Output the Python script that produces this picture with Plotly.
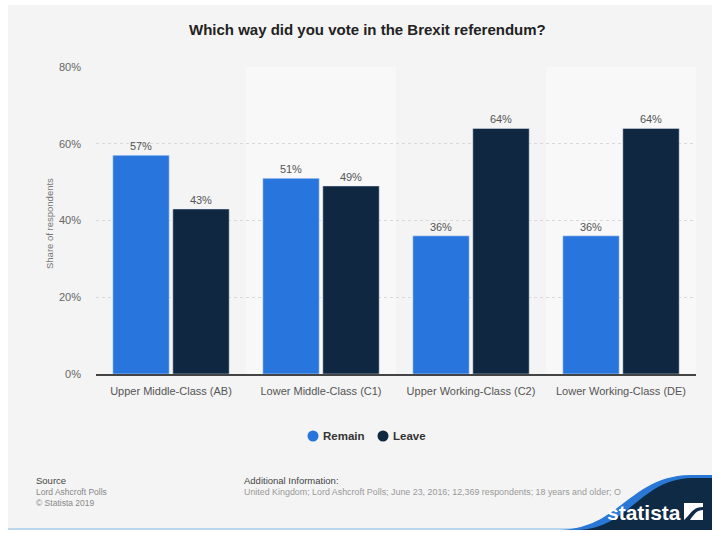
import plotly.graph_objects as go

categories = ["Upper Middle-Class (AB)", "Lower Middle-Class (C1)",
              "Upper Working-Class (C2)", "Lower Working-Class (DE)"]
remain = [57, 51, 36, 36]
leave = [43, 49, 64, 64]
series_names = ["Remain", "Leave"]
y_ticks = [0, 20, 40, 60, 80]
y_tick_labels = ["0%", "20%", "40%", "60%", "80%"]

TITLE = "Which way did you vote in the Brexit referendum?"
Y_TITLE = "Share of respondents"
SOURCE_LINES = ["Lord Ashcroft Polls", "© Statista 2019"]
ADDITIONAL = "United Kingdom; Lord Ashcroft Polls; June 23, 2016; 12,369 respondents; 18 years and older; O"

W_FIG, H_FIG = 712, 533
L, R, T, B = 96, 16, 67, 159
PW = W_FIG - L - R
PH = H_FIG - T - B

def px(x):
    return (x - L) / PW

def py(y):
    return 1 - (y - T) / PH

C_REMAIN = "#2876dd"
C_LEAVE = "#0f2740"
FONT = "Liberation Sans, Arial, Helvetica, sans-serif"

fig = go.Figure()
fig.add_trace(go.Bar(x=categories, y=remain, name=series_names[0], marker_color=C_REMAIN,
                     text=[f"{v}%" for v in remain], textposition="outside",
                     textfont=dict(color="#555555", size=11), cliponaxis=False,
                     showlegend=False))
fig.add_trace(go.Bar(x=categories, y=leave, name=series_names[1], marker_color=C_LEAVE,
                     text=[f"{v}%" for v in leave], textposition="outside",
                     textfont=dict(color="#555555", size=11), cliponaxis=False,
                     showlegend=False))

shapes = []
# grey paper panel
shapes.append(dict(type="rect", xref="paper", yref="paper", x0=px(8), x1=px(712),
                   y0=py(529), y1=py(5), fillcolor="#f4f4f4", line_width=0, layer="below"))
# alternating bands
for i in (1, 3):
    shapes.append(dict(type="rect", xref="x", yref="y", x0=i - 0.5, x1=i + 0.5, y0=0, y1=80,
                       fillcolor="#f8f8f8", line_width=0, layer="below"))
# bottom light-blue line
shapes.append(dict(type="line", xref="paper", yref="paper", x0=px(8), x1=px(712),
                   y0=py(529), y1=py(529), line=dict(color="#bcd5ef", width=2), layer="above"))

# statista logo swoosh
def P(x, y):
    return f"{px(x):.5f},{py(y):.5f}"

blue_path = ("M " + P(560, 530) + " C " + P(620, 528) + " " + P(630, 476) + " " + P(690, 475)
             + " L " + P(712, 475) + " L " + P(712, 530) + " Z")
dark_path = ("M " + P(578, 530) + " C " + P(630, 528) + " " + P(640, 479) + " " + P(692, 478)
             + " L " + P(712, 478) + " L " + P(712, 530) + " Z")
shapes.append(dict(type="path", xref="paper", yref="paper", path=blue_path,
                   fillcolor="#2a78d6", line_width=0, layer="above"))
shapes.append(dict(type="path", xref="paper", yref="paper", path=dark_path,
                   fillcolor="#0e2a44", line_width=0, layer="above"))
# logo icon
icon1 = ("M " + P(684, 503) + " L " + P(703, 503) + " L " + P(703, 507) + " C " + P(695, 507) + " "
         + P(692, 511) + " " + P(688, 516) + " L " + P(684, 520) + " Z")
icon2 = ("M " + P(703, 510) + " L " + P(703, 520) + " L " + P(690, 520) + " C " + P(694, 514) + " "
         + P(697, 510) + " " + P(703, 510) + " Z")
for p_ in (icon1, icon2):
    shapes.append(dict(type="path", xref="paper", yref="paper", path=p_,
                       fillcolor="white", line_width=0, layer="above"))

# legend circles
for cx, col in ((313, C_REMAIN), (383, C_LEAVE)):
    shapes.append(dict(type="circle", xref="paper", yref="paper",
                       x0=px(cx - 5.5), x1=px(cx + 5.5), y0=py(436 + 5.5), y1=py(436 - 5.5),
                       fillcolor=col, line_width=0, layer="above"))

def ann(text, x, y, size, color, xanchor="left", family=FONT, **kw):
    return dict(text=text, x=px(x), y=py(y), xref="paper", yref="paper",
                xanchor=xanchor, yanchor="middle", showarrow=False,
                font=dict(size=size, color=color, family=family), **kw)

annotations = [
    ann(f"<b>{TITLE}</b>", 367, 30, 15, "#222222", xanchor="center"),
    ann(Y_TITLE, 49, 224, 9.5, "#777777", xanchor="center", textangle=-90),
    ann(f"<b>{series_names[0]}</b>", 321, 436, 11.5, "#333333"),
    ann(f"<b>{series_names[1]}</b>", 391, 436, 11.5, "#333333"),
    ann("Source", 34, 480, 9.5, "#444444"),
    ann(SOURCE_LINES[0], 34, 492, 8.5, "#888888"),
    ann(SOURCE_LINES[1], 34, 503, 8.5, "#888888"),
    ann("Additional Information:", 242, 480, 9.5, "#444444"),
    ann(ADDITIONAL, 242, 492, 8.9, "#999999"),
    ann("<b>statista</b>", 644, 512, 21, "white", xanchor="center",
        family="Liberation Sans Narrow, Arial Narrow, " + FONT),
]

fig.update_layout(
    width=W_FIG, height=H_FIG,
    margin=dict(l=L, r=R, t=T, b=B, autoexpand=False),
    paper_bgcolor="white", plot_bgcolor="#f4f4f4",
    font=dict(family=FONT, color="#555555"),
    barmode="group", bargap=0.2, bargroupgap=0.06,
    showlegend=False,
    shapes=shapes, annotations=annotations,
)
fig.update_xaxes(showline=True, linecolor="#444444", linewidth=1.5, showgrid=False,
                 tickfont=dict(size=11, color="#555555"), ticks="", ticklabelstandoff=6)
fig.update_yaxes(range=[0, 80], tickvals=y_ticks, ticktext=y_tick_labels, showgrid=True,
                 gridcolor="#d9d9d9", griddash="dot", gridwidth=1, zeroline=False,
                 tickfont=dict(size=11, color="#666666"), ticks="", ticklabelstandoff=14,
                 showline=False)

fig.write_html("out.html")
